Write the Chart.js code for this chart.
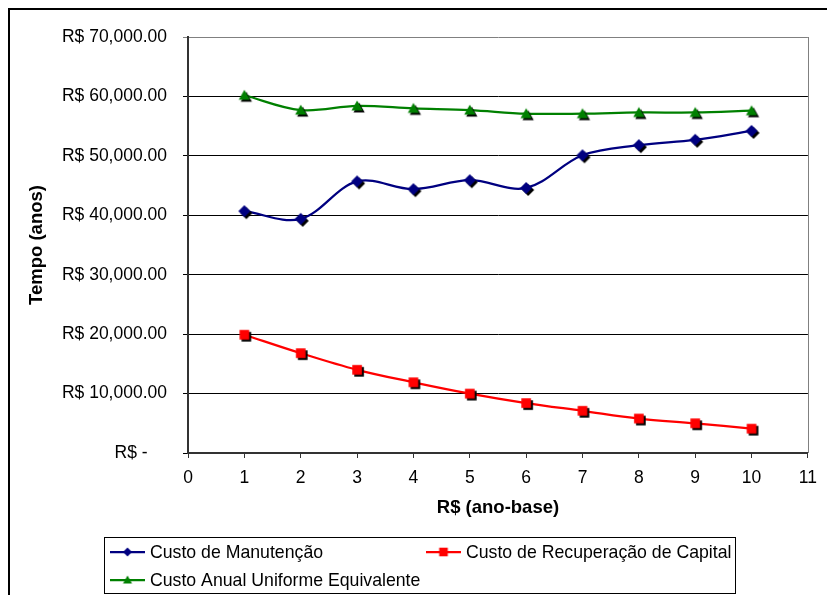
<!DOCTYPE html>
<html>
<head>
<meta charset="utf-8">
<title>Custos por ano-base</title>
<script src="https://cdn.jsdelivr.net/npm/chart.js@4/dist/chart.umd.min.js"></script>
<style>
  html, body { margin: 0; padding: 0; background: #fff; }
  #wrap { position: relative; width: 827px; height: 595px; }
</style>
</head>
<body>
<div id="wrap"><canvas id="chart" width="827" height="595"></canvas></div>
<script>
// Anos (eixo x) e valores de cada série, em R$
const anos = [1, 2, 3, 4, 5, 6, 7, 8, 9, 10];
const custoManutencao = [40700, 39400, 45700, 44400, 45900, 44600, 50100, 51800, 52700, 54200];
const custoRecuperacao = [19900, 16800, 14000, 11900, 10000, 8400, 7100, 5800, 5000, 4100];
const custoAnualEquivalente = [60200, 57700, 58400, 58000, 57700, 57100, 57100, 57300, 57300, 57600];

const nomesSeries = [
  'Custo de Manutenção',
  'Custo de Recuperação de Capital',
  'Custo Anual Uniforme Equivalente'
];
const tituloX = 'R$ (ano-base)';
const tituloY = 'Tempo (anos)';

const FONT = "'Liberation Sans', Arial, sans-serif";
const TAM_TICK = 17.5;
const TAM_TITULO = 18.5;
const TAM_LEGENDA = 17.7;

// Marker images: coloured shape with an optional black drop shadow
function shapePath(ctx, shape, cx, cy, s) {
  ctx.beginPath();
  if (shape === 'diamond') {
    ctx.moveTo(cx, cy - s); ctx.lineTo(cx + s, cy); ctx.lineTo(cx, cy + s); ctx.lineTo(cx - s, cy);
  } else if (shape === 'square') {
    const h = s * 0.86;
    ctx.rect(cx - h, cy - h, 2 * h, 2 * h);
  } else {
    ctx.moveTo(cx, cy - s); ctx.lineTo(cx + s, cy + s * 0.8); ctx.lineTo(cx - s, cy + s * 0.8);
  }
  ctx.closePath();
}
function makeMarker(shape, color, size, shadow) {
  const c = document.createElement('canvas');
  c.width = 22; c.height = 22;
  const ctx = c.getContext('2d');
  if (shadow) {
    ctx.fillStyle = '#000';
    shapePath(ctx, shape, 13, 13, size);
    ctx.fill();
  }
  ctx.fillStyle = color;
  shapePath(ctx, shape, 11, 11, size);
  ctx.fill();
  return c;
}

const cores = ['#000080', '#FF0000', '#008000'];
const formas = ['diamond', 'square', 'triangle'];
const marcadores = formas.map((f, i) => makeMarker(f, cores[i], f === 'diamond' ? 6 : 5.6, true));
const marcadoresLegenda = formas.map((f, i) => makeMarker(f, cores[i], f === 'square' ? 5 : 4.5, false));

function serie(i, valores) {
  return {
    label: nomesSeries[i],
    data: anos.map((a, k) => ({ x: a, y: valores[k] })),
    borderColor: cores[i],
    backgroundColor: cores[i],
    borderWidth: 2.25,
    tension: 0.35,
    pointStyle: marcadores[i],
    pointRadius: 5,
    pointHoverRadius: 5
  };
}

function formatoReal(v) {
  if (v === 0) return 'R$ -    ';
  return 'R$ ' + v.toLocaleString('en-US', { minimumFractionDigits: 2, maximumFractionDigits: 2 });
}

// Frame around the whole chart and the grey right edge of the plot area
const molduraPlugin = {
  id: 'moldura',
  beforeDraw(chart) {
    const ctx = chart.ctx;
    ctx.save();
    ctx.fillStyle = '#fff';
    ctx.fillRect(0, 0, chart.width, chart.height);
    ctx.strokeStyle = '#000';
    ctx.lineWidth = 2;
    ctx.strokeRect(9, 9, chart.width + 20, chart.height + 20);
    ctx.restore();
  },
  beforeDatasetsDraw(chart) {
    const { ctx, chartArea: a } = chart;
    ctx.save();
    ctx.strokeStyle = '#808080';
    ctx.lineWidth = 1;
    ctx.beginPath();
    ctx.moveTo(Math.round(a.right) + 0.5, a.top);
    ctx.lineTo(Math.round(a.right) + 0.5, a.bottom);
    ctx.stroke();
    ctx.restore();
  }
};

// Legend box below the axis: line sample + marker + series name
const legendaPlugin = {
  id: 'legendaLinhas',
  afterDraw(chart) {
    const ctx = chart.ctx;
    const box = { x: 104.5, y: 537.5, w: 631, h: 56 };
    const itens = [
      { i: 0, x: 110, y: 552 },
      { i: 1, x: 426, y: 552 },
      { i: 2, x: 110, y: 580 }
    ];
    ctx.save();
    ctx.fillStyle = '#fff';
    ctx.fillRect(box.x, box.y, box.w, box.h);
    ctx.strokeStyle = '#000';
    ctx.lineWidth = 1;
    ctx.strokeRect(box.x, box.y, box.w, box.h);
    ctx.font = TAM_LEGENDA + 'px ' + FONT;
    ctx.textBaseline = 'middle';
    ctx.textAlign = 'left';
    itens.forEach(it => {
      const ds = chart.data.datasets[it.i];
      ctx.strokeStyle = ds.borderColor;
      ctx.lineWidth = 2.25;
      ctx.beginPath();
      ctx.moveTo(it.x, it.y);
      ctx.lineTo(it.x + 35, it.y);
      ctx.stroke();
      const m = marcadoresLegenda[it.i];
      ctx.drawImage(m, it.x + 17.5 - m.width / 2, it.y - m.height / 2);
      ctx.fillStyle = '#000';
      ctx.fillText(ds.label, it.x + 40, it.y + 1);
    });
    ctx.restore();
  }
};

Chart.defaults.font.family = FONT;
Chart.defaults.font.size = TAM_TICK;
Chart.defaults.color = '#000';

new Chart(document.getElementById('chart'), {
  type: 'line',
  data: {
    datasets: [
      serie(0, custoManutencao),
      serie(1, custoRecuperacao),
      serie(2, custoAnualEquivalente)
    ]
  },
  options: {
    responsive: false,
    animation: false,
    devicePixelRatio: 1,
    layout: { padding: { left: 0, top: 37, right: 18, bottom: 0 } },
    plugins: {
      legend: { display: false },
      title: { display: false },
      tooltip: { enabled: false }
    },
    scales: {
      x: {
        type: 'linear',
        min: 0,
        max: 11,
        afterFit(scale) { scale.height = 142; },
        ticks: { stepSize: 1, padding: 10, font: { size: TAM_TICK } },
        grid: { drawOnChartArea: false, drawTicks: true, tickLength: 5, color: '#333', lineWidth: 1 },
        border: { display: true, color: '#333', width: 2 },
        title: { display: true, text: tituloX, font: { size: TAM_TITULO, weight: 'bold' }, padding: { top: 0, bottom: 76 } }
      },
      y: {
        min: 0,
        max: 70000,
        afterFit(scale) { scale.width = 188; },
        ticks: { stepSize: 10000, padding: 16, callback: v => formatoReal(v), font: { size: TAM_TICK } },
        grid: {
          drawTicks: true,
          tickLength: 5,
          color: c => (c.tick && c.tick.value === 70000 ? '#808080' : '#000'),
          lineWidth: 1
        },
        border: { display: true, color: '#333', width: 2 },
        title: { display: true, text: tituloY, font: { size: TAM_TITULO, weight: 'bold' }, padding: { top: 26, bottom: 0 } }
      }
    }
  },
  plugins: [molduraPlugin, legendaPlugin]
});
</script>
</body>
</html>
